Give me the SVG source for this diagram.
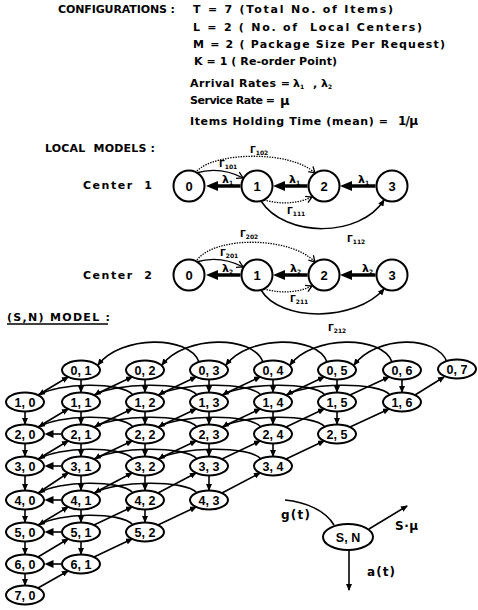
<svg xmlns="http://www.w3.org/2000/svg" width="478" height="610" viewBox="0 0 478 610">
<defs>
<style>
text { font-family: "DejaVu Sans", "Liberation Sans", sans-serif; font-weight: bold; fill: #000; }
.hd { font-size: 11px; }
.nl { font-family: "Liberation Sans", Arial, sans-serif; font-size: 12.5px; text-anchor: middle; }
.cl { font-family: "Liberation Sans", Arial, sans-serif; font-size: 13px; text-anchor: middle; }
.gm { font-size: 9px; }
.lm { font-size: 11px; }
.sub { font-size: 6px; }
.ln { fill: none; stroke: #000; stroke-width: 1.6; }
.thick { fill: none; stroke: #000; stroke-width: 3.5; }
.dot { fill: none; stroke: #000; stroke-width: 1.3; stroke-dasharray: 1.4 1.2; }
.circ { fill: #fff; stroke: #000; stroke-width: 2; }
.ell { fill: #fff; stroke: #000; stroke-width: 2; }
.a { marker-end: url(#ah); }
.o { marker-end: url(#open); }
.b { marker-end: url(#big); }
.h { marker-end: url(#hb); }
</style>
<marker id="ah" viewBox="0 0 7 6" refX="6" refY="3" markerWidth="7" markerHeight="6" markerUnits="userSpaceOnUse" orient="auto"><path d="M0,0 L7,3 L0,6 z"/></marker>
<marker id="big" viewBox="0 0 12 10" refX="1" refY="5" markerWidth="12" markerHeight="10" markerUnits="userSpaceOnUse" orient="auto"><path d="M0,0 L12,5 L0,10 z"/></marker>
<marker id="hb" viewBox="0 0 9 8" refX="0.5" refY="4" markerWidth="9" markerHeight="8" markerUnits="userSpaceOnUse" orient="auto"><path d="M0,0 L9,4 L0,8 z"/></marker>
<marker id="open" viewBox="-1 -1 9 9" refX="6" refY="3.5" markerWidth="9" markerHeight="9" markerUnits="userSpaceOnUse" orient="auto"><path d="M0,0 L6,3.5 L0,7" fill="none" stroke="#000" stroke-width="1.3"/></marker>
</defs>
<rect width="478" height="610" fill="#fff"/>

<!-- header: configuration parameters -->
<g id="configurations">
<text class="hd" x="58" y="13" textLength="117" xml:space="preserve">CONFIGURATIONS :</text>
<text class="hd" x="193" y="13" textLength="200" xml:space="preserve">T = 7 (Total No. of Items)</text>
<text class="hd" x="193" y="31" textLength="229" xml:space="preserve">L = 2 ( No. of  Local Centers)</text>
<text class="hd" x="193" y="48" textLength="252" xml:space="preserve">M = 2 ( Package Size Per Request)</text>
<text class="hd" x="194" y="65" textLength="143" xml:space="preserve">K = 1 ( Re-order Point)</text>
<text class="hd" x="190" y="87" textLength="100" xml:space="preserve">Arrival Rates =</text>
<text class="lm" x="293" y="87">λ<tspan class="sub" dy="2">1</tspan></text>
<text class="hd" x="313" y="87">,</text>
<text class="lm" x="321" y="87">λ<tspan class="sub" dy="2">2</tspan></text>
<text class="hd" x="190" y="104" textLength="85" xml:space="preserve">Service Rate =</text>
<text x="280" y="105" font-size="13">μ</text>
<text class="hd" x="190" y="125" textLength="198" xml:space="preserve">Items Holding Time (mean) =</text>
<text x="398" y="125" font-size="12" textLength="20">1/μ</text>
</g>

<text class="hd" x="45" y="152" textLength="110" xml:space="preserve">LOCAL  MODELS :</text>
<text class="hd" x="83" y="189" textLength="69" xml:space="preserve">Center  1</text>
<text class="hd" x="83" y="279" textLength="69" xml:space="preserve">Center  2</text>

<!-- local model connectors -->
<g id="local-connectors">
<!-- center 1 -->
<path class="thick b" d="M240.5,186 L217,186"/>
<path class="thick b" d="M307.5,186 L284,186"/>
<path class="thick b" d="M375.5,186 L351,186"/>
<path class="dot o" d="M197,171 C215,152 290,150 315,173"/>
<path class="ln o" d="M196,173 Q220,166 243,178" style="stroke-width:1.4"/>
<path class="dot o" d="M264,200 Q290,207 312,197"/>
<path class="ln a" d="M261,201 C285,238 360,238 384,200" style="stroke-width:1.5"/>
<!-- center 2 -->
<path class="thick b" d="M240.5,275 L217,275"/>
<path class="thick b" d="M307.5,275 L284,275"/>
<path class="thick b" d="M375.5,275 L351,275"/>
<path class="dot o" d="M197,260 C215,236 290,236 315,262"/>
<path class="ln o" d="M196,262 Q220,255 243,267" style="stroke-width:1.4"/>
<path class="dot o" d="M264,289 Q290,296 312,286"/>
<path class="ln a" d="M261,290 C280,322 355,322 384,289" style="stroke-width:1.5"/>
</g>

<!-- local model labels -->
<g id="local-labels">
<text class="gm" x="250" y="153">Γ<tspan class="sub" dy="2">102</tspan></text>
<text class="gm" x="219" y="167">Γ<tspan class="sub" dy="2">101</tspan></text>
<text class="gm" x="287" y="214">Γ<tspan class="sub" dy="2">111</tspan></text>
<text class="gm" x="347" y="242">Γ<tspan class="sub" dy="2">112</tspan></text>
<text class="lm" x="222" y="183">λ<tspan class="sub" dy="1.5">1</tspan></text>
<text class="lm" x="289" y="183">λ<tspan class="sub" dy="1.5">1</tspan></text>
<text class="lm" x="358" y="183">λ<tspan class="sub" dy="1.5">1</tspan></text>
<text class="gm" x="240" y="237">Γ<tspan class="sub" dy="2">202</tspan></text>
<text class="gm" x="220" y="256">Γ<tspan class="sub" dy="2">201</tspan></text>
<text class="gm" x="290" y="302">Γ<tspan class="sub" dy="2">211</tspan></text>
<text class="gm" x="328" y="331">Γ<tspan class="sub" dy="2">212</tspan></text>
<text class="lm" x="222" y="272">λ<tspan class="sub" dy="1.5">2</tspan></text>
<text class="lm" x="290" y="272">λ<tspan class="sub" dy="1.5">2</tspan></text>
<text class="lm" x="362" y="272">λ<tspan class="sub" dy="1.5">2</tspan></text>
</g>

<!-- local model states -->
<g id="c1-0"><circle class="circ" cx="189" cy="186" r="15.5"/><text class="cl" x="189" y="190.5">0</text></g>
<g id="c1-1"><circle class="circ" cx="257" cy="186" r="15.5"/><text class="cl" x="257" y="190.5">1</text></g>
<g id="c1-2"><circle class="circ" cx="324" cy="186" r="15.5"/><text class="cl" x="324" y="190.5">2</text></g>
<g id="c1-3"><circle class="circ" cx="392" cy="186" r="15.5"/><text class="cl" x="392" y="190.5">3</text></g>
<g id="c2-0"><circle class="circ" cx="189" cy="275" r="15.5"/><text class="cl" x="189" y="279.5">0</text></g>
<g id="c2-1"><circle class="circ" cx="257" cy="275" r="15.5"/><text class="cl" x="257" y="279.5">1</text></g>
<g id="c2-2"><circle class="circ" cx="324" cy="275" r="15.5"/><text class="cl" x="324" y="279.5">2</text></g>
<g id="c2-3"><circle class="circ" cx="392" cy="275" r="15.5"/><text class="cl" x="392" y="279.5">3</text></g>

<text class="hd" x="7" y="321" textLength="103" xml:space="preserve">(S,N) MODEL :</text>
<line x1="7" y1="324" x2="108" y2="324" stroke="#000" stroke-width="1.3"/>

<!-- (S,N) lattice transitions -->
<g id="sn-connectors">
<!-- package arrivals at the top row: (0,n) -> (0,n-2) -->
<path class="ln a" d="M199,362 C189,335 121,335 98,365"/>
<path class="ln a" d="M263,362 C253,335 185,335 162,365"/>
<path class="ln a" d="M327,362 C317,335 249,335 226,365"/>
<path class="ln a" d="M392,362 C382,335 313,335 290,365"/>
<path class="ln a" d="M447,362 C437,335 377,335 354,365"/>
<!-- (s,n) -> (s,n-2) within lower rows -->
<path class="ln a" d="M133,395 C121,381 57,383 39,395"/>
<path class="ln a" d="M197,395 C185,381 113,383 95,395"/>
<path class="ln a" d="M261,395 C249,381 177,383 159,395"/>
<path class="ln a" d="M325,395 C313,381 241,383 223,395"/>
<path class="ln a" d="M390,395 C378,381 305,383 287,395"/>
<path class="ln a" d="M133,427 C121,413 57,415 39,427"/>
<path class="ln a" d="M197,427 C185,413 113,415 95,427"/>
<path class="ln a" d="M261,427 C249,413 177,415 159,427"/>
<path class="ln a" d="M325,427 C313,413 241,415 223,427"/>
<path class="ln a" d="M133,459 C121,445 57,447 39,459"/>
<path class="ln a" d="M197,459 C185,445 113,447 95,459"/>
<path class="ln a" d="M261,459 C249,445 177,447 159,459"/>
<path class="ln a" d="M133,493 C121,479 57,481 39,493"/>
<path class="ln a" d="M197,493 C185,479 113,481 95,493"/>
<path class="ln a" d="M133,525 C121,511 57,513 39,525"/>
<!-- single item left: (s,1) -> (s,0) -->
<path class="ln h" d="M61,434 L53,434"/>
<path class="ln h" d="M61,466 L53,466"/>
<path class="ln h" d="M61,500 L53,500"/>
<path class="ln h" d="M61,532 L53,532"/>
<path class="ln h" d="M61,564 L53,564"/>
<!-- a(t): (s,n) -> (s+1,n) -->
<path class="ln a" d="M25,412 L25,424"/>
<path class="ln a" d="M25,444 L25,456"/>
<path class="ln a" d="M25,476 L25,490"/>
<path class="ln a" d="M25,510 L25,522"/>
<path class="ln a" d="M25,542 L25,554"/>
<path class="ln a" d="M25,574 L25,585"/>
<path class="ln a" d="M81,380 L81,392"/>
<path class="ln a" d="M81,412 L81,424"/>
<path class="ln a" d="M81,444 L81,456"/>
<path class="ln a" d="M81,476 L81,490"/>
<path class="ln a" d="M81,510 L81,522"/>
<path class="ln a" d="M81,542 L81,554"/>
<path class="ln a" d="M145,380 L145,392"/>
<path class="ln a" d="M145,412 L145,424"/>
<path class="ln a" d="M145,444 L145,456"/>
<path class="ln a" d="M145,476 L145,490"/>
<path class="ln a" d="M145,510 L145,522"/>
<path class="ln a" d="M209,380 L209,392"/>
<path class="ln a" d="M209,412 L209,424"/>
<path class="ln a" d="M209,444 L209,456"/>
<path class="ln a" d="M209,476 L209,490"/>
<path class="ln a" d="M273,380 L273,392"/>
<path class="ln a" d="M273,412 L273,424"/>
<path class="ln a" d="M273,444 L273,456"/>
<path class="ln a" d="M337,380 L337,392"/>
<path class="ln a" d="M337,412 L337,424"/>
<path class="ln a" d="M402,380 L402,392"/>
<!-- S·mu: (s,n) -> (s-1,n+1) -->
<path class="ln a" d="M38,395 L68,377"/>
<path class="ln a" d="M94,395 L132,377"/>
<path class="ln a" d="M158,395 L196,377"/>
<path class="ln a" d="M222,395 L260,377"/>
<path class="ln a" d="M286,395 L324,377"/>
<path class="ln a" d="M350,395 L389,377"/>
<path class="ln a" d="M415,395 L444,377"/>
<path class="ln a" d="M38,427 L68,409"/>
<path class="ln a" d="M94,427 L132,409"/>
<path class="ln a" d="M158,427 L196,409"/>
<path class="ln a" d="M222,427 L260,409"/>
<path class="ln a" d="M286,427 L324,409"/>
<path class="ln a" d="M350,427 L389,409"/>
<path class="ln a" d="M38,459 L68,441"/>
<path class="ln a" d="M94,459 L132,441"/>
<path class="ln a" d="M158,459 L196,441"/>
<path class="ln a" d="M222,459 L260,441"/>
<path class="ln a" d="M286,459 L324,441"/>
<path class="ln a" d="M38,493 L68,473"/>
<path class="ln a" d="M94,493 L132,473"/>
<path class="ln a" d="M158,493 L196,473"/>
<path class="ln a" d="M222,493 L260,473"/>
<path class="ln a" d="M38,525 L68,507"/>
<path class="ln a" d="M94,525 L132,507"/>
<path class="ln a" d="M158,525 L196,507"/>
<path class="ln a" d="M38,557 L68,539"/>
<path class="ln a" d="M94,557 L132,539"/>
<path class="ln a" d="M38,588 L68,571"/>
</g>

<!-- (S,N) lattice states -->
<g id="n0-1"><ellipse class="ell" cx="81" cy="370" rx="19" ry="9.5"/><text class="nl" x="81" y="374.5">0, 1</text></g>
<g id="n0-2"><ellipse class="ell" cx="145" cy="370" rx="19" ry="9.5"/><text class="nl" x="145" y="374.5">0, 2</text></g>
<g id="n0-3"><ellipse class="ell" cx="209" cy="370" rx="19" ry="9.5"/><text class="nl" x="209" y="374.5">0, 3</text></g>
<g id="n0-4"><ellipse class="ell" cx="273" cy="370" rx="19" ry="9.5"/><text class="nl" x="273" y="374.5">0, 4</text></g>
<g id="n0-5"><ellipse class="ell" cx="337" cy="370" rx="19" ry="9.5"/><text class="nl" x="337" y="374.5">0, 5</text></g>
<g id="n0-6"><ellipse class="ell" cx="402" cy="370" rx="19" ry="9.5"/><text class="nl" x="402" y="374.5">0, 6</text></g>
<g id="n0-7"><ellipse class="ell" cx="457" cy="369" rx="19" ry="9.5"/><text class="nl" x="457" y="373.5">0, 7</text></g>
<g id="n1-0"><ellipse class="ell" cx="25" cy="402" rx="19" ry="9.5"/><text class="nl" x="25" y="406.5">1, 0</text></g>
<g id="n1-1"><ellipse class="ell" cx="81" cy="402" rx="19" ry="9.5"/><text class="nl" x="81" y="406.5">1, 1</text></g>
<g id="n1-2"><ellipse class="ell" cx="145" cy="402" rx="19" ry="9.5"/><text class="nl" x="145" y="406.5">1, 2</text></g>
<g id="n1-3"><ellipse class="ell" cx="209" cy="402" rx="19" ry="9.5"/><text class="nl" x="209" y="406.5">1, 3</text></g>
<g id="n1-4"><ellipse class="ell" cx="273" cy="402" rx="19" ry="9.5"/><text class="nl" x="273" y="406.5">1, 4</text></g>
<g id="n1-5"><ellipse class="ell" cx="337" cy="402" rx="19" ry="9.5"/><text class="nl" x="337" y="406.5">1, 5</text></g>
<g id="n1-6"><ellipse class="ell" cx="402" cy="402" rx="19" ry="9.5"/><text class="nl" x="402" y="406.5">1, 6</text></g>
<g id="n2-0"><ellipse class="ell" cx="25" cy="434" rx="19" ry="9.5"/><text class="nl" x="25" y="438.5">2, 0</text></g>
<g id="n2-1"><ellipse class="ell" cx="81" cy="434" rx="19" ry="9.5"/><text class="nl" x="81" y="438.5">2, 1</text></g>
<g id="n2-2"><ellipse class="ell" cx="145" cy="434" rx="19" ry="9.5"/><text class="nl" x="145" y="438.5">2, 2</text></g>
<g id="n2-3"><ellipse class="ell" cx="209" cy="434" rx="19" ry="9.5"/><text class="nl" x="209" y="438.5">2, 3</text></g>
<g id="n2-4"><ellipse class="ell" cx="273" cy="434" rx="19" ry="9.5"/><text class="nl" x="273" y="438.5">2, 4</text></g>
<g id="n2-5"><ellipse class="ell" cx="337" cy="434" rx="19" ry="9.5"/><text class="nl" x="337" y="438.5">2, 5</text></g>
<g id="n3-0"><ellipse class="ell" cx="25" cy="466" rx="19" ry="9.5"/><text class="nl" x="25" y="470.5">3, 0</text></g>
<g id="n3-1"><ellipse class="ell" cx="81" cy="466" rx="19" ry="9.5"/><text class="nl" x="81" y="470.5">3, 1</text></g>
<g id="n3-2"><ellipse class="ell" cx="145" cy="466" rx="19" ry="9.5"/><text class="nl" x="145" y="470.5">3, 2</text></g>
<g id="n3-3"><ellipse class="ell" cx="209" cy="466" rx="19" ry="9.5"/><text class="nl" x="209" y="470.5">3, 3</text></g>
<g id="n3-4"><ellipse class="ell" cx="273" cy="466" rx="19" ry="9.5"/><text class="nl" x="273" y="470.5">3, 4</text></g>
<g id="n4-0"><ellipse class="ell" cx="25" cy="500" rx="19" ry="9.5"/><text class="nl" x="25" y="504.5">4, 0</text></g>
<g id="n4-1"><ellipse class="ell" cx="81" cy="500" rx="19" ry="9.5"/><text class="nl" x="81" y="504.5">4, 1</text></g>
<g id="n4-2"><ellipse class="ell" cx="145" cy="500" rx="19" ry="9.5"/><text class="nl" x="145" y="504.5">4, 2</text></g>
<g id="n4-3"><ellipse class="ell" cx="209" cy="500" rx="19" ry="9.5"/><text class="nl" x="209" y="504.5">4, 3</text></g>
<g id="n5-0"><ellipse class="ell" cx="25" cy="532" rx="19" ry="9.5"/><text class="nl" x="25" y="536.5">5, 0</text></g>
<g id="n5-1"><ellipse class="ell" cx="81" cy="532" rx="19" ry="9.5"/><text class="nl" x="81" y="536.5">5, 1</text></g>
<g id="n5-2"><ellipse class="ell" cx="145" cy="532" rx="19" ry="9.5"/><text class="nl" x="145" y="536.5">5, 2</text></g>
<g id="n6-0"><ellipse class="ell" cx="25" cy="564" rx="19" ry="9.5"/><text class="nl" x="25" y="568.5">6, 0</text></g>
<g id="n6-1"><ellipse class="ell" cx="81" cy="564" rx="19" ry="9.5"/><text class="nl" x="81" y="568.5">6, 1</text></g>
<g id="n7-0"><ellipse class="ell" cx="25" cy="595" rx="19" ry="9.5"/><text class="nl" x="25" y="599.5">7, 0</text></g>

<!-- generic state with its transition rates -->
<g id="legend-connectors">
<path class="ln" d="M285,500 C305,502 325,510 334,525"/>
<path class="ln a" d="M369,529 L407,506"/>
<path class="ln a" d="M349,550 L349,590"/>
</g>
<g id="legend-state"><ellipse class="ell" cx="348" cy="537" rx="25" ry="13"/><text class="nl" x="348" y="541.5">S, N</text></g>
<text x="281" y="519" font-size="12" textLength="29">g(t)</text>
<text x="395" y="530" font-size="12" textLength="23">S·μ</text>
<text x="367" y="576" font-size="12" textLength="28">a(t)</text>
</svg>
